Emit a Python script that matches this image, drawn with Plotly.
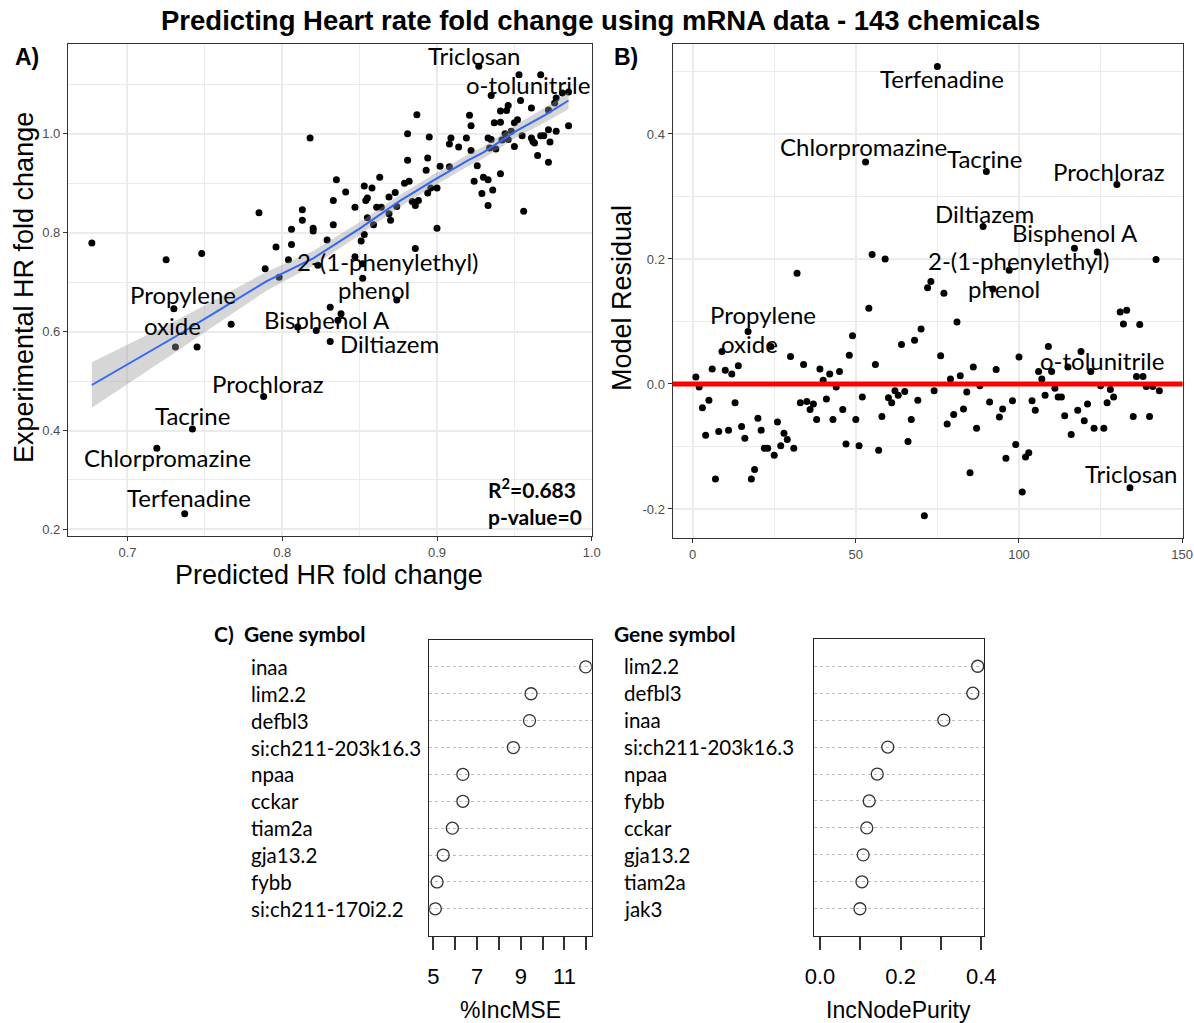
import plotly.graph_objects as go

W, H = 1194, 1023

# ---------------- data ----------------
# Panel A: predicted vs experimental heart-rate fold change
pred_fc = [
    0.677, 0.725, 0.748, 0.806, 0.796, 0.806, 0.789, 0.804, 0.798, 0.730,
    0.767, 0.731, 0.745, 0.810, 0.788, 0.742, 0.719, 0.737,
    0.822, 0.831, 0.838, 0.836, 0.831, 0.874,
    0.818, 0.881, 0.881, 0.895, 0.894, 0.893, 0.835, 0.863, 0.853, 0.858,
    0.841, 0.879, 0.882, 0.833, 0.854, 0.855, 0.869, 0.873, 0.847, 0.861,
    0.864, 0.874, 0.884, 0.888, 0.886, 0.894, 0.869, 0.870, 0.855, 0.859,
    0.833, 0.820, 0.820, 0.813, 0.813, 0.785, 0.829, 0.853, 0.851, 0.886,
    0.823, 0.847, 0.852, 0.852,
    0.927, 0.953, 0.967, 0.935, 0.954, 0.977, 0.981, 0.985, 0.976, 0.972,
    0.946, 0.945, 0.941, 0.961, 0.921, 0.887, 0.922, 0.937, 0.941, 0.952,
    0.950, 0.985, 0.977, 0.972, 0.909, 0.919, 0.933, 0.935, 0.944, 0.948,
    0.942, 0.946, 0.955, 0.961, 0.962, 0.963, 0.967, 0.969, 0.973, 0.965,
    0.972, 0.908, 0.914, 0.934, 0.938, 0.950, 0.922, 0.902, 0.908, 0.926,
    0.924, 0.930, 0.933, 0.941, 0.936, 0.929, 0.933, 0.956, 0.896, 0.900,
    0.900,
]
exp_fc = [
    0.779, 0.745, 0.758, 0.807, 0.771, 0.776, 0.727, 0.745, 0.710, 0.646,
    0.615, 0.569, 0.569, 0.609, 0.469, 0.403, 0.364, 0.232,
    0.602, 0.649, 0.636, 0.623, 0.580, 0.664,
    0.991, 1.000, 0.946, 0.993, 0.951, 0.926, 0.907, 0.912, 0.894, 0.890,
    0.882, 0.900, 0.904, 0.865, 0.865, 0.870, 0.872, 0.881, 0.851, 0.851,
    0.851, 0.853, 0.863, 0.865, 0.855, 0.880, 0.838, 0.825, 0.830, 0.816,
    0.816, 0.809, 0.803, 0.846, 0.825, 0.840, 0.785, 0.796, 0.783, 0.768,
    0.734, 0.751, 0.737, 0.708,
    1.136, 1.119, 1.119, 1.077, 1.067, 1.072, 1.082, 1.084, 1.062, 1.048,
    1.057, 1.047, 1.046, 1.052, 1.037, 1.038, 1.016, 1.022, 1.023, 1.028,
    1.022, 1.016, 1.005, 1.008, 0.991, 0.991, 0.991, 0.988, 1.000, 1.005,
    0.987, 0.988, 0.996, 0.991, 0.984, 0.981, 0.996, 0.996, 0.983, 0.956,
    0.942, 0.979, 0.973, 0.971, 0.969, 0.974, 0.966, 0.934, 0.933, 0.935,
    0.904, 0.912, 0.907, 0.919, 0.886, 0.879, 0.855, 0.843, 0.890, 0.890,
    0.809,
]

# smoother (loess fit) and its standard-error half width
smooth_x = [0.677, 0.700, 0.730, 0.760, 0.790, 0.820, 0.850, 0.876, 0.898, 0.920, 0.930, 0.951, 0.970, 0.985]
smooth_y = [0.492, 0.533, 0.588, 0.645, 0.702, 0.748, 0.808, 0.864, 0.906, 0.946, 0.962, 1.005, 1.038, 1.067]
smooth_se = [0.046, 0.040, 0.032, 0.025, 0.019, 0.015, 0.013, 0.012, 0.012, 0.012, 0.012, 0.013, 0.015, 0.017]

r2_text = "R<sup>2</sup>=0.683"
pval_text = "p-value=0"

# Panel B: model residuals by chemical index
resid_idx = list(range(1, 144))
resid = [
    0.011, -0.005, -0.038, -0.082, -0.026, 0.024, -0.152, -0.076, 0.052, 0.022,
    -0.074, 0.016, -0.030, 0.029, -0.068, -0.087, 0.084, -0.152, -0.137, -0.055,
    -0.074, -0.103, -0.103, 0.060, -0.114, -0.061, -0.099, -0.079, -0.089, 0.044,
    -0.103, 0.177, -0.030, 0.031, -0.028, -0.041, -0.032, -0.057, 0.024, 0.006,
    -0.024, 0.016, -0.057, -0.005, 0.020, -0.041, -0.096, 0.046, 0.077, -0.057,
    -0.099, -0.021, 0.355, 0.121, 0.207, 0.031, -0.106, -0.052, 0.200, -0.022,
    -0.030, -0.011, -0.018, 0.063, -0.012, -0.092, -0.057, 0.070, -0.026, 0.088,
    -0.211, 0.154, 0.164, -0.011, 0.508, 0.045, 0.145, -0.064, 0.008, -0.049,
    0.099, 0.013, -0.040, -0.013, -0.142, 0.027, -0.071, -0.003, 0.252, 0.340,
    -0.029, 0.152, 0.023, -0.053, -0.040, -0.119, 0.182, -0.027, -0.097, 0.043,
    -0.173, -0.117, -0.110, -0.027, -0.042, 0.020, 0.008, -0.018, 0.060, 0.020,
    -0.007, -0.021, -0.021, -0.051, 0.027, -0.081, 0.217, -0.042, 0.052, -0.059,
    -0.032, 0.020, -0.071, 0.211, -0.003, -0.071, -0.030, -0.009, -0.021, 0.319,
    0.115, 0.096, 0.118, -0.166, -0.052, 0.012, 0.095, 0.012, -0.004, -0.052,
    -0.004, 0.199, -0.011,
]

# Panel C: variable importance
mse_genes = ["inaa", "lim2.2", "defbl3", "si:ch211-203k16.3", "npaa", "cckar",
             "tiam2a", "gja13.2", "fybb", "si:ch211-170i2.2"]
mse_vals = [11.97, 9.47, 9.40, 8.66, 6.35, 6.35, 5.87, 5.45, 5.17, 5.09]
purity_genes = ["lim2.2", "defbl3", "inaa", "si:ch211-203k16.3", "npaa", "fybb",
                "cckar", "gja13.2", "tiam2a", "jak3"]
purity_vals = [0.391, 0.379, 0.307, 0.168, 0.142, 0.122, 0.116, 0.107, 0.104, 0.099]

mse_ticks = [5, 7, 9, 11]
mse_minor_ticks = [6, 8, 10, 12]
purity_ticks = [0.0, 0.2, 0.4]
purity_minor_ticks = [0.1, 0.3]

# ---------------- layout helpers ----------------
def PX(p):
    return p / W

def PY(p):
    return 1 - p / H

def expand(vals, frac):
    lo, hi = min(vals), max(vals)
    d = (hi - lo) * frac
    return [lo - d, hi + d]

ARIAL = "Liberation Sans, Arial, sans-serif"
CAL = "Lato, Carlito, Calibri, sans-serif"
GRID = "#EBEBEB"
FRAME = "#333333"
TICKC = "#4D4D4D"

fig = go.Figure()

# ---- Panel A ----
fig.add_trace(go.Scatter(x=pred_fc, y=exp_fc, mode="markers",
                         marker=dict(color="black", size=7), xaxis="x", yaxis="y",
                         hoverinfo="skip"))
lower = [y - s for y, s in zip(smooth_y, smooth_se)]
upper = [y + s for y, s in zip(smooth_y, smooth_se)]
fig.add_trace(go.Scatter(x=smooth_x, y=lower, mode="lines", line=dict(width=0),
                         xaxis="x", yaxis="y", hoverinfo="skip"))
fig.add_trace(go.Scatter(x=smooth_x, y=upper, mode="lines", line=dict(width=0),
                         fill="tonexty", fillcolor="rgba(153,153,153,0.4)",
                         xaxis="x", yaxis="y", hoverinfo="skip"))
fig.add_trace(go.Scatter(x=smooth_x, y=smooth_y, mode="lines",
                         line=dict(color="#3366FF", width=2), xaxis="x", yaxis="y",
                         hoverinfo="skip"))

# ---- Panel B ----
fig.add_trace(go.Scatter(x=resid_idx, y=resid, mode="markers",
                         marker=dict(color="black", size=7), xaxis="x2", yaxis="y2",
                         hoverinfo="skip"))

# ---- Panel C ----
n_mse = len(mse_genes)
mse_rows = [n_mse - i for i in range(n_mse)]
fig.add_trace(go.Scatter(x=mse_vals, y=mse_rows, mode="markers",
                         marker=dict(symbol="circle-open", size=12, color="#333333",
                                     line=dict(width=1.3)),
                         xaxis="x3", yaxis="y3", hoverinfo="skip"))
n_pur = len(purity_genes)
pur_rows = [n_pur - i for i in range(n_pur)]
fig.add_trace(go.Scatter(x=purity_vals, y=pur_rows, mode="markers",
                         marker=dict(symbol="circle-open", size=12, color="#333333",
                                     line=dict(width=1.3)),
                         xaxis="x4", yaxis="y4", hoverinfo="skip"))

gg_axis = dict(showline=True, mirror=True, linecolor=FRAME, linewidth=1.3,
               ticks="outside", ticklen=4, tickcolor=FRAME, tickwidth=1,
               showgrid=True, gridcolor=GRID, gridwidth=1.6, zeroline=False,
               automargin=False, ticklabeloverflow="allow",
               tickfont=dict(family=ARIAL, size=13, color=TICKC))

base_axis = dict(showline=True, mirror=True, linecolor="#222222", linewidth=1.2,
                 zeroline=False, automargin=False)
c_xaxis = dict(base_axis, showgrid=False, ticks="outside", ticklen=13, tickwidth=1.5,
               tickcolor="#333333", ticklabelstandoff=8,
               tickfont=dict(family=ARIAL, size=22, color="black"))
c_yaxis = dict(base_axis, showticklabels=False, ticks="", showgrid=True,
               gridcolor="#BEBEBE", griddash="dot", gridwidth=1)

a_dom_y = [PY(536), PY(44)]
b_dom_y = [PY(538.3), PY(44)]

fig.update_layout(
    template="none",
    width=W, height=H, margin=dict(l=0, r=0, t=0, b=0, pad=0, autoexpand=False),
    paper_bgcolor="white", plot_bgcolor="white", showlegend=False,
    xaxis=dict(gg_axis, domain=[PX(68), PX(592.4)], anchor="y",
               range=expand(pred_fc, 0.05),
               tickvals=[0.7, 0.8, 0.9, 1.0], ticktext=["0.7", "0.8", "0.9", "1.0"],
               minor=dict(tickvals=[0.65, 0.75, 0.85, 0.95], showgrid=True,
                          gridcolor=GRID, gridwidth=0.8, ticks="")),
    yaxis=dict(gg_axis, domain=a_dom_y, anchor="x",
               range=expand(exp_fc, 0.05),
               tickvals=[0.2, 0.4, 0.6, 0.8, 1.0], ticktext=["0.2", "0.4", "0.6", "0.8", "1.0"],
               minor=dict(tickvals=[0.3, 0.5, 0.7, 0.9, 1.1], showgrid=True,
                          gridcolor=GRID, gridwidth=0.8, ticks="")),
    xaxis2=dict(gg_axis, domain=[PX(672.7), PX(1182.5)], anchor="y2",
                range=expand(resid_idx, 0.05),
                tickvals=[0, 50, 100, 150], ticktext=["0", "50", "100", "150"],
                minor=dict(tickvals=[25, 75, 125], showgrid=True,
                           gridcolor=GRID, gridwidth=0.8, ticks="")),
    yaxis2=dict(gg_axis, domain=b_dom_y, anchor="x2",
                range=expand(resid, 0.05),
                tickvals=[-0.2, 0.0, 0.2, 0.4], ticktext=["-0.2", "0.0", "0.2", "0.4"],
                minor=dict(tickvals=[-0.1, 0.1, 0.3, 0.5], showgrid=True,
                           gridcolor=GRID, gridwidth=0.8, ticks="")),
    xaxis3=dict(c_xaxis, domain=[PX(429.3), PX(591.7)], anchor="y3",
                range=expand(mse_vals, 0.04),
                tickvals=mse_ticks, ticktext=[str(v) for v in mse_ticks],
                minor=dict(tickvals=mse_minor_ticks, ticks="outside", ticklen=13,
                           tickwidth=1.5, tickcolor="#333333", showgrid=False)),
    yaxis3=dict(c_yaxis, domain=[PY(935.7), PY(640)], anchor="x3", range=[0, n_mse + 1],
                tickvals=mse_rows),
    xaxis4=dict(c_xaxis, domain=[PX(813.7), PX(984)], anchor="y4",
                range=expand([0] + purity_vals, 0.04),
                tickvals=purity_ticks, ticktext=["%.1f" % v for v in purity_ticks],
                minor=dict(tickvals=purity_minor_ticks, ticks="outside", ticklen=13,
                           tickwidth=1.5, tickcolor="#333333", showgrid=False)),
    yaxis4=dict(c_yaxis, domain=[PY(935.7), PY(639.3)], anchor="x4", range=[0, n_pur + 1],
                tickvals=pur_rows),
)

# red zero line in panel B
fig.add_shape(type="line", xref="x2 domain", yref="y2", x0=0, x1=1, y0=0, y1=0,
              line=dict(color="#FF0000", width=5), layer="above")

ann = []

def txt(text, x, y, size, family=CAL, xref="paper", yref="paper",
        xanchor="center", yanchor="middle", color="black", angle=0):
    ann.append(dict(text=text, x=x, y=y, xref=xref, yref=yref, xanchor=xanchor,
                    yanchor=yanchor, showarrow=False, textangle=angle, borderpad=0,
                    font=dict(family=family, size=size, color=color)))

# titles and panel letters
txt("<b>Predicting Heart rate fold change using mRNA data - 143 chemicals</b>",
    PX(600.5), PY(21), 27.5, family=ARIAL)
txt("<b>A)</b>", PX(14), PY(57), 23, family=ARIAL, xanchor="left")
txt("<b>B)</b>", PX(613), PY(57), 23, family=ARIAL, xanchor="left")
txt("Predicted HR fold change", PX(329), PY(575), 27, family=ARIAL)
txt("Experimental HR fold change", PX(24), PY(288), 27, family=ARIAL, angle=-90)
txt("Model Residual", PX(622), PY(298), 27, family=ARIAL, angle=-90)

# panel A point labels (anchor positions in data units)
a_labels = [
    ("Triclosan", 0.9240, 1.158), ("o-tolunitrile", 0.9588, 1.100),
    ("2-(1-phenylethyl)", 0.8682, 0.741), ("phenol", 0.8594, 0.686),
    ("Propylene", 0.7362, 0.675), ("oxide", 0.7288, 0.613),
    ("Bisphenol A", 0.8287, 0.625), ("Diltiazem", 0.8690, 0.575),
    ("Prochloraz", 0.7910, 0.496), ("Tacrine", 0.7418, 0.431),
    ("Chlorpromazine", 0.7262, 0.345), ("Terfenadine", 0.7395, 0.264),
]
for t, x, y in a_labels:
    txt(t, x, y, 24, xref="x", yref="y")
txt("<b>" + r2_text + "</b>", 0.932, 0.283, 21, xref="x", yref="y", xanchor="left")
txt("<b>" + pval_text + "</b>", 0.932, 0.227, 21, xref="x", yref="y", xanchor="left")

# panel B point labels
b_labels = [
    ("Terfenadine", 76.4, 0.489), ("Chlorpromazine", 52.3, 0.380),
    ("Tacrine", 89.3, 0.361), ("Prochloraz", 127.6, 0.340),
    ("Diltiazem", 89.5, 0.272), ("Bisphenol A", 117.3, 0.242),
    ("2-(1-phenylethyl)", 99.8, 0.198), ("phenol", 95.5, 0.153),
    ("Propylene", 21.5, 0.111), ("oxide", 17.4, 0.065),
    ("o-tolunitrile", 125.5, 0.037), ("Triclosan", 134.4, -0.144),
]
for t, x, y in b_labels:
    txt(t, x, y, 24, xref="x2", yref="y2")

# panel C labels
txt("<b>C)</b>", PX(212.7), PY(633), 21, xanchor="left")
txt("<b>Gene symbol</b>", PX(243), PY(633), 21, xanchor="left")
txt("<b>Gene symbol</b>", PX(613), PY(633), 21, xanchor="left")
for g, r in zip(mse_genes, mse_rows):
    txt(g, PX(250), r, 20.5, yref="y3", xanchor="left")
for g, r in zip(purity_genes, pur_rows):
    txt(g, PX(622.7), r, 20.5, yref="y4", xanchor="left")
txt("%IncMSE", PX(510.5), PY(1010), 23, family=ARIAL)
txt("IncNodePurity", PX(898.8), PY(1010), 23, family=ARIAL)

fig.update_layout(annotations=ann)
fig.write_html("out.html")
